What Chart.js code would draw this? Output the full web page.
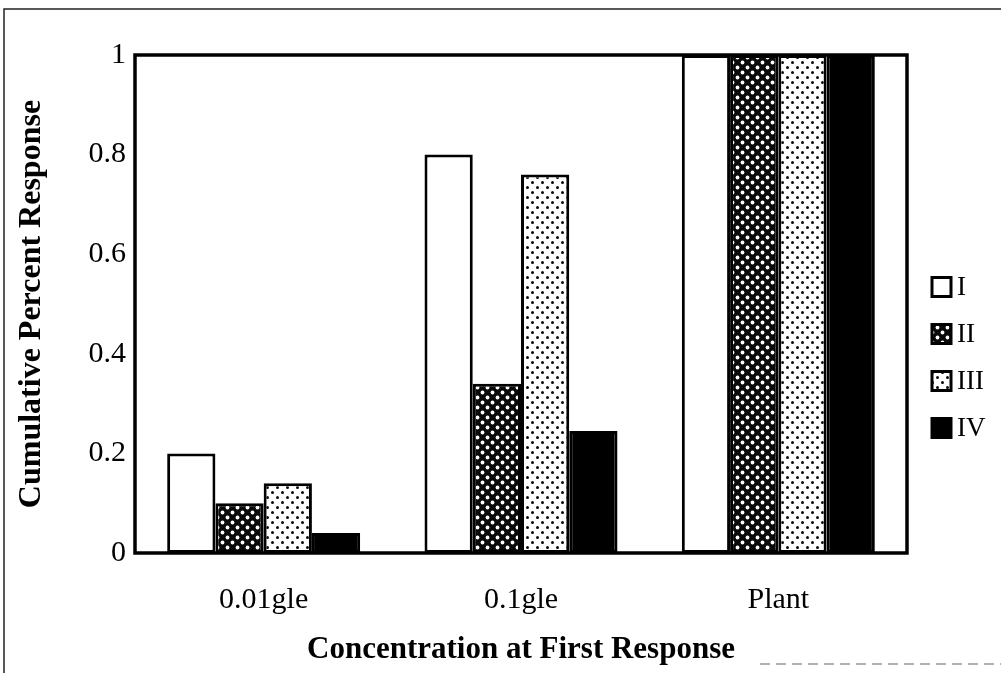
<!DOCTYPE html>
<html>
<head>
<meta charset="utf-8">
<script src="https://cdn.jsdelivr.net/npm/chart.js@4/dist/chart.umd.min.js"></script>
<style>
  html, body { margin: 0; padding: 0; background: #fff; }
  #wrap { width: 1001px; height: 673px; position: relative; }
</style>
</head>
<body>
<div id="wrap"><canvas id="c" width="1001" height="673"></canvas></div>
<script>
const categories = ["0.01gle", "0.1gle", "Plant"];
const seriesNames = ["I", "II", "III", "IV"];
const seriesI = [0.20, 0.80, 1.00];
const seriesII = [0.10, 0.34, 1.00];
const seriesIII = [0.14, 0.76, 1.00];
const seriesIV = [0.04, 0.245, 1.00];
const yTicks = [0, 0.2, 0.4, 0.6, 0.8, 1];
const yTitle = "Cumulative Percent Response";
const xTitle = "Concentration at First Response";

function dotPattern(bg, fg, r) {
  const t = document.createElement('canvas');
  t.width = 10; t.height = 10;
  const g = t.getContext('2d');
  g.fillStyle = bg; g.fillRect(0, 0, 10, 10);
  g.fillStyle = fg;
  [[2.5, 2.5], [7.5, 7.5]].forEach(([x, y]) => {
    g.beginPath(); g.arc(x, y, r, 0, Math.PI * 2); g.fill();
  });
  return g.createPattern(t, 'repeat');
}

const ctx = document.getElementById('c').getContext('2d');
const fills = [
  '#ffffff',
  dotPattern('#0a0a0a', '#ffffff', 1.9),
  dotPattern('#ffffff', '#0a0a0a', 1.5),
  '#000000'
];
const values = [seriesI, seriesII, seriesIII, seriesIV];

const frame = {
  id: 'frame',
  beforeDraw(chart) {
    const c = chart.ctx;
    c.save();
    c.fillStyle = '#fff';
    c.fillRect(0, 0, chart.width, chart.height);
    c.strokeStyle = '#222';
    c.lineWidth = 1.5;
    c.beginPath();
    c.moveTo(4, 673); c.lineTo(4, 9); c.lineTo(1001, 9);
    c.stroke();
    c.strokeStyle = '#999';
    c.setLineDash([10, 6]);
    c.lineWidth = 1.5;
    c.beginPath();
    c.moveTo(760, 664); c.lineTo(1001, 664);
    c.stroke();
    c.restore();
  },
  afterDatasetsDraw(chart) {
    const a = chart.chartArea;
    const c = chart.ctx;
    c.save();
    c.strokeStyle = '#000';
    c.lineWidth = 3.5;
    c.strokeRect(a.left, a.top, a.right - a.left, a.bottom - a.top);
    c.restore();
  },
  afterDraw(chart) {
    const c = chart.ctx;
    c.save();
    c.font = '27px "Liberation Serif"';
    c.textBaseline = 'middle';
    c.textAlign = 'left';
    chart.data.datasets.forEach((ds, i) => {
      const cy = 287 + i * 47;
      const x = 932, s = 19;
      c.fillStyle = ds.backgroundColor;
      c.fillRect(x, cy - s / 2, s, s);
      c.strokeStyle = '#000';
      c.lineWidth = 3;
      c.strokeRect(x, cy - s / 2, s, s);
      c.fillStyle = '#000';
      c.fillText(ds.label, 957, cy + 1);
    });
    c.restore();
  }
};

new Chart(ctx, {
  type: 'bar',
  data: {
    labels: categories,
    datasets: seriesNames.map((n, i) => ({
      label: n,
      data: values[i],
      backgroundColor: fills[i],
      borderColor: '#000',
      borderWidth: 3,
      borderSkipped: false,
      categoryPercentage: 0.75,
      barPercentage: 1.0
    }))
  },
  options: {
    responsive: false,
    animation: false,
    layout: { padding: { top: 55, right: 94, bottom: 0, left: 0 } },
    plugins: { legend: { display: false }, tooltip: { enabled: false } },
    scales: {
      x: {
        grid: { display: false, drawTicks: false },
        border: { display: false },
        ticks: { color: '#000', font: { family: 'Liberation Serif', size: 30 }, padding: 29, maxRotation: 0 },
        title: { display: true, text: xTitle, color: '#000', font: { family: 'Liberation Serif', size: 31, weight: 'bold' }, padding: { top: 0, bottom: 4 } },
        afterFit(scale) { scale.height = 120; }
      },
      y: {
        min: 0, max: 1,
        afterBuildTicks(scale) { scale.ticks = yTicks.map(v => ({ value: v })); },
        grid: { display: false, drawTicks: false },
        border: { display: false },
        ticks: { color: '#000', font: { family: 'Liberation Serif', size: 30 }, padding: 9,
          callback: v => String(v) },
        title: { display: true, text: yTitle, color: '#000', font: { family: 'Liberation Serif', size: 32, weight: 'bold' }, padding: { top: 13, bottom: 0 } },
        afterFit(scale) { scale.width = 135; }
      }
    }
  },
  plugins: [frame]
});
</script>
</body>
</html>
